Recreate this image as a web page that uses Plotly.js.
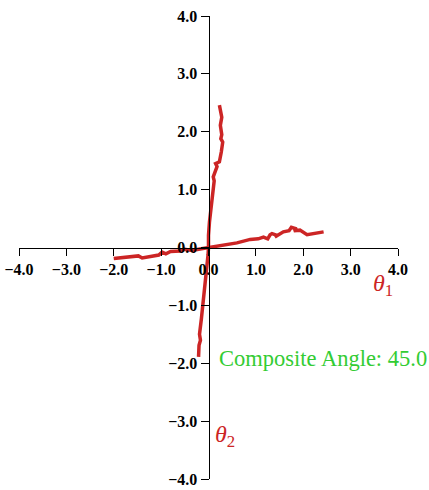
<!DOCTYPE html>
<html>
<head>
<meta charset="utf-8">
<script src="https://cdn.plot.ly/plotly-3.0.1.min.js"></script>
<style>html,body{margin:0;padding:0;background:#fff;}#plot{width:429px;height:490px;}</style>
</head>
<body>
<div id="plot"></div>
<script>
// theta1 trace (near-horizontal)
var theta1X = [-2.00, -1.75, -1.48, -1.40, -1.05, -0.98, -0.90, -0.80, -0.60, -0.50, -0.35, -0.15, 0.00, 0.20, 0.39, 0.60, 0.88, 1.05, 1.16, 1.25, 1.30, 1.34, 1.45, 1.40, 1.58, 1.70, 1.75, 1.79, 1.86, 1.80, 1.93, 2.08, 2.25, 2.43];
var theta1Y = [-0.19, -0.17, -0.145, -0.18, -0.13, -0.08, -0.11, -0.07, -0.06, -0.03, -0.05, -0.02, 0.00, 0.03, 0.05, 0.08, 0.14, 0.15, 0.18, 0.15, 0.22, 0.24, 0.21, 0.18, 0.27, 0.29, 0.35, 0.34, 0.32, 0.29, 0.30, 0.22, 0.25, 0.27];
// theta2 trace (near-vertical)
var theta2X = [-0.21, -0.20, -0.17, -0.19, -0.15, -0.10, -0.06, -0.01, 0.00, 0.00, 0.02, 0.09, 0.12, 0.10, 0.14, 0.18, 0.15, 0.23, 0.27, 0.30, 0.26, 0.28, 0.25, 0.28, 0.23];
var theta2Y = [-1.89, -1.69, -1.60, -1.50, -1.23, -0.88, -0.54, -0.13, 0.00, 0.21, 0.44, 0.90, 1.15, 1.22, 1.31, 1.40, 1.45, 1.48, 1.65, 1.82, 1.88, 1.95, 2.11, 2.25, 2.46];
var tickVals = [-4, -3, -2, -1, 0, 1, 2, 3, 4];
var labelTheta1 = '<i>θ</i><sub>1</sub>';
var labelTheta2 = '<i>θ</i><sub>2</sub>';
var labelComposite = 'Composite Angle: 45.0';

var red = '#cc2525';
var traces = [
  {x: theta1X, y: theta1Y, type: 'scatter', mode: 'lines', line: {color: red, width: 3.5}, hoverinfo: 'skip'},
  {x: theta2X, y: theta2Y, type: 'scatter', mode: 'lines', line: {color: red, width: 3.5}, hoverinfo: 'skip'}
];
var tickFont = {family: 'Liberation Serif, serif', size: 16, color: '#000', weight: 'bold'};
var layout = {
  width: 429, height: 490,
  margin: {l: 19, r: 31, t: 16, b: 11},
  paper_bgcolor: '#fff', plot_bgcolor: '#fff',
  showlegend: false,
  xaxis: {
    range: [-4, 4], anchor: 'free', position: 0.5, showgrid: false, zeroline: false,
    showline: true, linecolor: '#000', linewidth: 1,
    ticks: 'outside', ticklen: 7, tickwidth: 1, tickcolor: '#000',
    tickvals: tickVals, tickformat: '.1f', tickfont: tickFont, automargin: false
  },
  yaxis: {
    range: [-4, 4], anchor: 'free', position: 0.5, showgrid: false, zeroline: false,
    showline: true, linecolor: '#000', linewidth: 1,
    ticks: 'outside', ticklen: 8, tickwidth: 1, tickcolor: '#000',
    tickvals: tickVals, tickformat: '.1f', tickfont: tickFont, automargin: false
  },
  annotations: [
    {x: 3.68, y: -0.64, xref: 'x', yref: 'y', text: labelTheta1, showarrow: false,
     font: {family: 'Liberation Serif, serif', size: 24, color: red}},
    {x: 0.35, y: -3.25, xref: 'x', yref: 'y', text: labelTheta2, showarrow: false,
     font: {family: 'Liberation Serif, serif', size: 24, color: red}},
    {x: 0.18, y: -1.91, xref: 'x', yref: 'y', xanchor: 'left', text: labelComposite, showarrow: false,
     font: {family: 'Liberation Serif, serif', size: 22.5, color: '#33cc33'}}
  ]
};
Plotly.newPlot('plot', traces, layout, {staticPlot: true, displayModeBar: false});
</script>
</body>
</html>
